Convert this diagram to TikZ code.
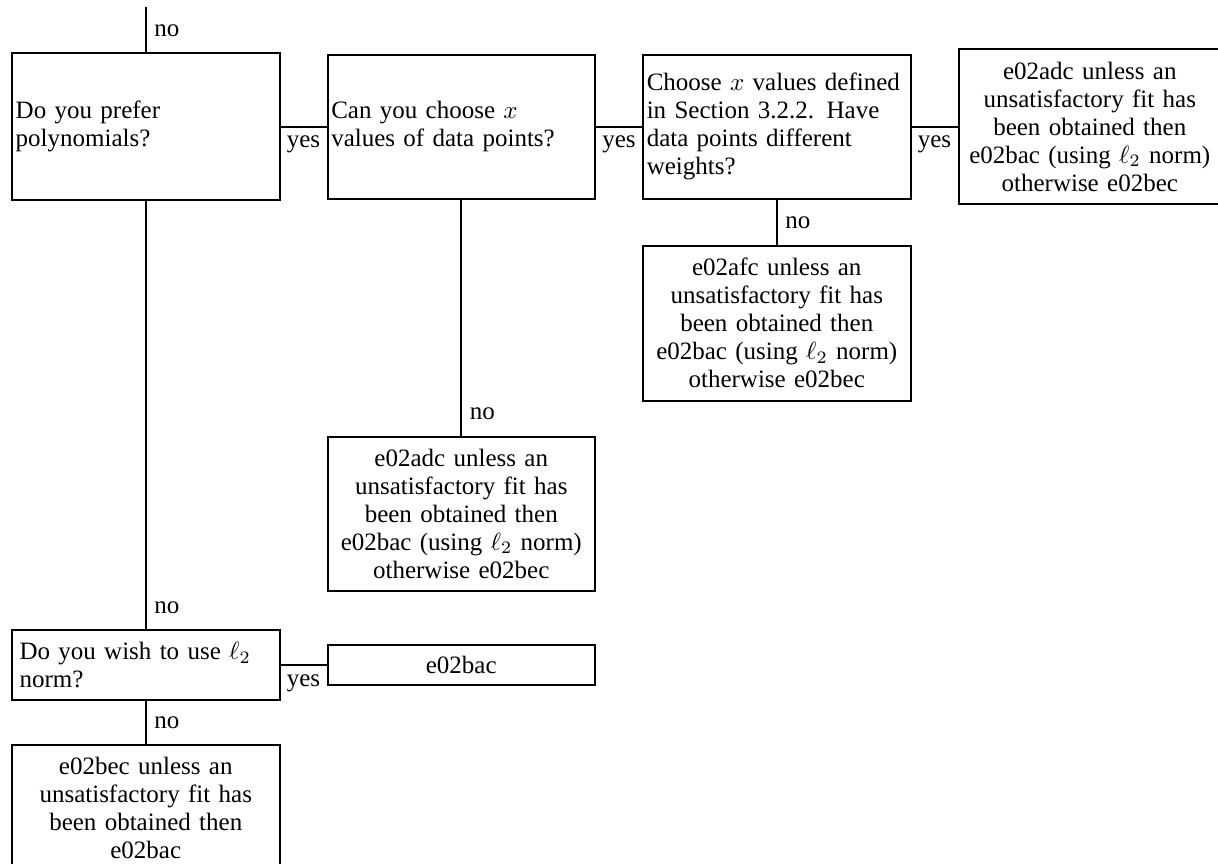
\documentclass[tikz,border=0pt]{standalone}
\usepackage{amsmath, amssymb}
\usepackage{fontspec}
\setmainfont{Liberation Serif}[WordSpace=1.3]
\usepackage{tikz}
\usetikzlibrary{positioning}
\tikzset{
    asknode/.style = {draw, rectangle, line width=0.8pt, align=left, text width=104pt,
      inner xsep=1.5pt, inner ysep=0pt, node distance=18.4pt, font=\fontsize{10}{11.2}\selectfont},
    answernode/.style = {draw, rectangle, line width=0.8pt, align=center, text width=104pt,
      inner xsep=1.5pt, inner ysep=0pt, node distance=18.4pt, font=\fontsize{10}{11.2}\selectfont},
    yesnode/.style = {below, inner sep=3.4pt, font=\fontsize{10}{11.2}\selectfont},
    nonode/.style = {right, inner sep=3pt, yshift=8.6pt, font=\fontsize{10}{11.2}\selectfont},
    connect/.style = {black, line width=0.8pt}
}

\begin{document}
\begin{tikzpicture}[x=0.4pt, y=0.4pt]
    \useasboundingbox (0,0) rectangle (1218,-863);

    \node [name = prefer, asknode, minimum height=58.8pt, anchor=north west] at (11,-52)
        {Do you prefer\\ polynomials?};
    \node [name = choose, asknode, minimum height=57.6pt, right = of prefer]
        {Can you choose $x$\\ values of data points?};
    \node [name = weights, asknode, minimum height=57.6pt, right = of choose]
        {Choose $x$ values defined\\ in Section 3.2.2. Have\\ data points different\\ weights?};
    \node [name = adcyes, answernode, text width=102pt, minimum height=62pt, right = of weights]
        {e02adc unless an\\ unsatisfactory fit has\\ been obtained then\\ e02bac (using $\ell_2$ norm)\\ otherwise e02bec};
    \node [name = afc, answernode, minimum height=62pt, below = 18pt of weights]
        {e02afc unless an\\ unsatisfactory fit has\\ been obtained then\\ e02bac (using $\ell_2$ norm)\\ otherwise e02bec};
    \node [name = adcno, answernode, minimum height=61.6pt, below = 94.4pt of choose]
        {e02adc unless an\\ unsatisfactory fit has\\ been obtained then\\ e02bac (using $\ell_2$ norm)\\ otherwise e02bec};
    \node [name = ltwo, asknode, minimum height=28pt, inner xsep=3pt, text width=101pt, below = 171.2pt of prefer]
        {Do you wish to use $\ell_2$\\ norm?};
    \node [name = bac, answernode, minimum height=16pt, right = of ltwo] {e02bac};
    \node [name = bec, answernode, minimum height=50.4pt, below = 17.2pt of ltwo]
        {e02bec unless an\\ unsatisfactory fit has\\ been obtained then\\ e02bac};
    \coordinate [above = 18pt of prefer] (start);

    \draw [connect] (start) -- (prefer) node[nonode, pos=1] {no};
    \draw [connect] (prefer) -- (choose) node[yesnode, midway] {yes};
    \draw [connect] (choose) -- (weights) node[yesnode, midway] {yes};
    \draw [connect] (weights) -- (adcyes) node[yesnode, midway] {yes};
    \draw [connect] (weights) -- (afc) node[nonode, pos=1] {no};
    \draw [connect] (choose) -- (adcno) node[nonode, pos=1] {no};
    \draw [connect] (prefer) -- (ltwo) node[nonode, pos=1] {no};
    \draw [connect] (ltwo) -- (bac) node[yesnode, midway] {yes};
    \draw [connect] (ltwo) -- (bec) node[nonode, pos=1] {no};
\end{tikzpicture}
\end{document}
